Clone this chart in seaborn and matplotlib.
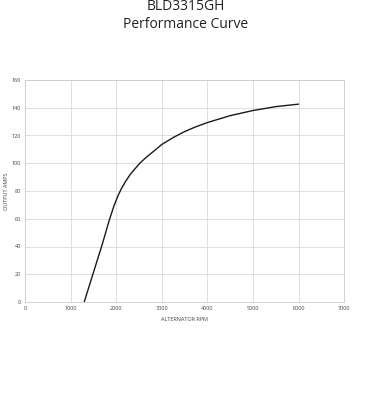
import matplotlib
matplotlib.use("Agg")
import matplotlib.pyplot as plt
import seaborn as sns
import pandas as pd

rpm = [1300, 1500, 1700, 1850, 1950, 2040, 2120, 2200, 2300, 2400, 2520, 2650, 2800, 3000, 3250, 3500, 3750, 4000, 4500, 5000, 5500, 6000]
amps = [0, 21, 42, 59, 69, 76.5, 82, 86.5, 91.5, 95.5, 100, 104, 108, 113.5, 118.5, 122.8, 126.3, 129.3, 134.3, 138, 140.8, 142.6]
x_ticks = [0, 1000, 2000, 3000, 4000, 5000, 6000, 7000]
y_ticks = [0, 20, 40, 60, 80, 100, 120, 140, 160]

df = pd.DataFrame({"rpm": rpm, "amps": amps})

sns.set_style("white")
plt.rcParams['font.family'] = ['Open Sans', 'DejaVu Sans']

fig = plt.figure(figsize=(3.72, 4.0), dpi=100)
ax = fig.add_axes([0.067, 0.245, 0.858, 0.555])

sns.lineplot(data=df, x="rpm", y="amps", ax=ax, color="#1a1a1a", linewidth=1.0)

ax.set_xlim(0, 7000)
ax.set_ylim(0, 160)
ax.set_xticks(x_ticks)
ax.set_yticks(y_ticks)
ax.grid(True, color="#d9d9d9", linewidth=0.6)
for s in ax.spines.values():
    s.set_color("#cccccc")
    s.set_linewidth(0.6)
ax.tick_params(axis="both", labelsize=4, colors="#444444", length=0, pad=3)
ax.set_xlabel("ALTERNATOR RPM", fontsize=4, color="#444444", labelpad=4)
ax.set_ylabel("OUTPUT AMPS", fontsize=4, color="#444444", labelpad=2)

fig.text(0.5, 1.003, "BLD3315GH", ha="center", va="top", fontsize=10, color="#222222")
fig.text(0.5, 0.958, "Performance Curve", ha="center", va="top", fontsize=10, color="#222222")

fig.savefig("out.png", dpi=100, facecolor="white")
